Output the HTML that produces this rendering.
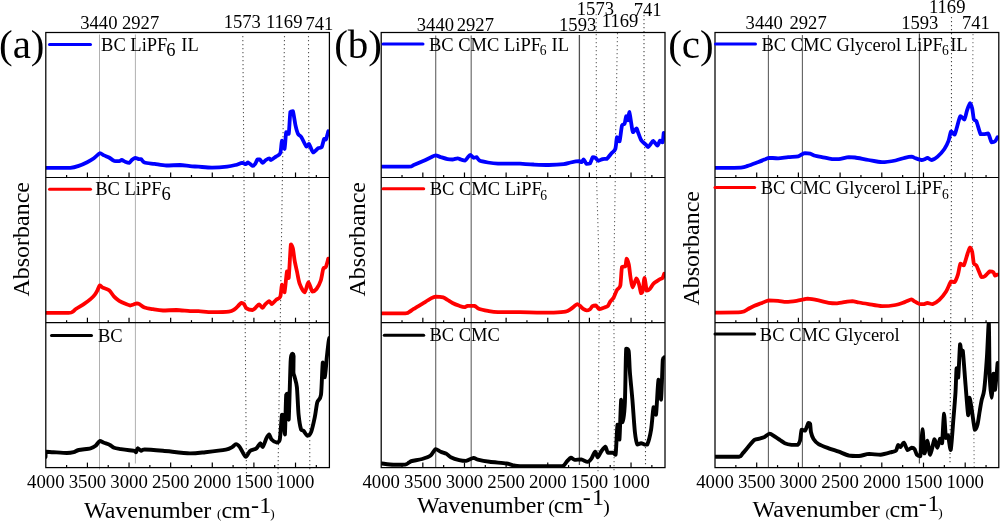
<!DOCTYPE html>
<html><head><meta charset="utf-8"><style>
html,body{margin:0;padding:0;background:#fff;width:1000px;height:522px;overflow:hidden}
svg{display:block;will-change:transform}
text{font-family:"Liberation Serif",serif;white-space:pre}
</style></head><body>
<svg width="1000" height="522" viewBox="0 0 1000 522">
<line x1="87.42" y1="177.5" x2="87.42" y2="172.5" stroke="#000" stroke-width="1.2"/>
<line x1="129.04" y1="177.5" x2="129.04" y2="172.5" stroke="#000" stroke-width="1.2"/>
<line x1="170.66" y1="177.5" x2="170.66" y2="172.5" stroke="#000" stroke-width="1.2"/>
<line x1="212.28" y1="177.5" x2="212.28" y2="172.5" stroke="#000" stroke-width="1.2"/>
<line x1="253.90" y1="177.5" x2="253.90" y2="172.5" stroke="#000" stroke-width="1.2"/>
<line x1="295.52" y1="177.5" x2="295.52" y2="172.5" stroke="#000" stroke-width="1.2"/>
<line x1="66.61" y1="177.5" x2="66.61" y2="175.0" stroke="#000" stroke-width="1.2"/>
<line x1="108.23" y1="177.5" x2="108.23" y2="175.0" stroke="#000" stroke-width="1.2"/>
<line x1="149.85" y1="177.5" x2="149.85" y2="175.0" stroke="#000" stroke-width="1.2"/>
<line x1="191.47" y1="177.5" x2="191.47" y2="175.0" stroke="#000" stroke-width="1.2"/>
<line x1="233.09" y1="177.5" x2="233.09" y2="175.0" stroke="#000" stroke-width="1.2"/>
<line x1="274.71" y1="177.5" x2="274.71" y2="175.0" stroke="#000" stroke-width="1.2"/>
<line x1="316.33" y1="177.5" x2="316.33" y2="175.0" stroke="#000" stroke-width="1.2"/>
<line x1="87.42" y1="322.7" x2="87.42" y2="317.7" stroke="#000" stroke-width="1.2"/>
<line x1="129.04" y1="322.7" x2="129.04" y2="317.7" stroke="#000" stroke-width="1.2"/>
<line x1="170.66" y1="322.7" x2="170.66" y2="317.7" stroke="#000" stroke-width="1.2"/>
<line x1="212.28" y1="322.7" x2="212.28" y2="317.7" stroke="#000" stroke-width="1.2"/>
<line x1="253.90" y1="322.7" x2="253.90" y2="317.7" stroke="#000" stroke-width="1.2"/>
<line x1="295.52" y1="322.7" x2="295.52" y2="317.7" stroke="#000" stroke-width="1.2"/>
<line x1="66.61" y1="322.7" x2="66.61" y2="320.2" stroke="#000" stroke-width="1.2"/>
<line x1="108.23" y1="322.7" x2="108.23" y2="320.2" stroke="#000" stroke-width="1.2"/>
<line x1="149.85" y1="322.7" x2="149.85" y2="320.2" stroke="#000" stroke-width="1.2"/>
<line x1="191.47" y1="322.7" x2="191.47" y2="320.2" stroke="#000" stroke-width="1.2"/>
<line x1="233.09" y1="322.7" x2="233.09" y2="320.2" stroke="#000" stroke-width="1.2"/>
<line x1="274.71" y1="322.7" x2="274.71" y2="320.2" stroke="#000" stroke-width="1.2"/>
<line x1="316.33" y1="322.7" x2="316.33" y2="320.2" stroke="#000" stroke-width="1.2"/>
<line x1="87.42" y1="467.6" x2="87.42" y2="462.6" stroke="#000" stroke-width="1.2"/>
<line x1="129.04" y1="467.6" x2="129.04" y2="462.6" stroke="#000" stroke-width="1.2"/>
<line x1="170.66" y1="467.6" x2="170.66" y2="462.6" stroke="#000" stroke-width="1.2"/>
<line x1="212.28" y1="467.6" x2="212.28" y2="462.6" stroke="#000" stroke-width="1.2"/>
<line x1="253.90" y1="467.6" x2="253.90" y2="462.6" stroke="#000" stroke-width="1.2"/>
<line x1="295.52" y1="467.6" x2="295.52" y2="462.6" stroke="#000" stroke-width="1.2"/>
<line x1="66.61" y1="467.6" x2="66.61" y2="465.1" stroke="#000" stroke-width="1.2"/>
<line x1="108.23" y1="467.6" x2="108.23" y2="465.1" stroke="#000" stroke-width="1.2"/>
<line x1="149.85" y1="467.6" x2="149.85" y2="465.1" stroke="#000" stroke-width="1.2"/>
<line x1="191.47" y1="467.6" x2="191.47" y2="465.1" stroke="#000" stroke-width="1.2"/>
<line x1="233.09" y1="467.6" x2="233.09" y2="465.1" stroke="#000" stroke-width="1.2"/>
<line x1="274.71" y1="467.6" x2="274.71" y2="465.1" stroke="#000" stroke-width="1.2"/>
<line x1="316.33" y1="467.6" x2="316.33" y2="465.1" stroke="#000" stroke-width="1.2"/>
<text x="45.80" y="487.80" font-size="18.8" text-anchor="middle">4000</text>
<text x="87.42" y="487.80" font-size="18.8" text-anchor="middle">3500</text>
<text x="129.04" y="487.80" font-size="18.8" text-anchor="middle">3000</text>
<text x="170.66" y="487.80" font-size="18.8" text-anchor="middle">2500</text>
<text x="212.28" y="487.80" font-size="18.8" text-anchor="middle">2000</text>
<text x="253.90" y="487.80" font-size="18.8" text-anchor="middle">1500</text>
<text x="295.52" y="487.80" font-size="18.8" text-anchor="middle">1000</text>
<line x1="422.84" y1="177.5" x2="422.84" y2="172.5" stroke="#000" stroke-width="1.2"/>
<line x1="464.48" y1="177.5" x2="464.48" y2="172.5" stroke="#000" stroke-width="1.2"/>
<line x1="506.12" y1="177.5" x2="506.12" y2="172.5" stroke="#000" stroke-width="1.2"/>
<line x1="547.76" y1="177.5" x2="547.76" y2="172.5" stroke="#000" stroke-width="1.2"/>
<line x1="589.40" y1="177.5" x2="589.40" y2="172.5" stroke="#000" stroke-width="1.2"/>
<line x1="631.04" y1="177.5" x2="631.04" y2="172.5" stroke="#000" stroke-width="1.2"/>
<line x1="402.02" y1="177.5" x2="402.02" y2="175.0" stroke="#000" stroke-width="1.2"/>
<line x1="443.66" y1="177.5" x2="443.66" y2="175.0" stroke="#000" stroke-width="1.2"/>
<line x1="485.30" y1="177.5" x2="485.30" y2="175.0" stroke="#000" stroke-width="1.2"/>
<line x1="526.94" y1="177.5" x2="526.94" y2="175.0" stroke="#000" stroke-width="1.2"/>
<line x1="568.58" y1="177.5" x2="568.58" y2="175.0" stroke="#000" stroke-width="1.2"/>
<line x1="610.22" y1="177.5" x2="610.22" y2="175.0" stroke="#000" stroke-width="1.2"/>
<line x1="651.86" y1="177.5" x2="651.86" y2="175.0" stroke="#000" stroke-width="1.2"/>
<line x1="422.84" y1="322.7" x2="422.84" y2="317.7" stroke="#000" stroke-width="1.2"/>
<line x1="464.48" y1="322.7" x2="464.48" y2="317.7" stroke="#000" stroke-width="1.2"/>
<line x1="506.12" y1="322.7" x2="506.12" y2="317.7" stroke="#000" stroke-width="1.2"/>
<line x1="547.76" y1="322.7" x2="547.76" y2="317.7" stroke="#000" stroke-width="1.2"/>
<line x1="589.40" y1="322.7" x2="589.40" y2="317.7" stroke="#000" stroke-width="1.2"/>
<line x1="631.04" y1="322.7" x2="631.04" y2="317.7" stroke="#000" stroke-width="1.2"/>
<line x1="402.02" y1="322.7" x2="402.02" y2="320.2" stroke="#000" stroke-width="1.2"/>
<line x1="443.66" y1="322.7" x2="443.66" y2="320.2" stroke="#000" stroke-width="1.2"/>
<line x1="485.30" y1="322.7" x2="485.30" y2="320.2" stroke="#000" stroke-width="1.2"/>
<line x1="526.94" y1="322.7" x2="526.94" y2="320.2" stroke="#000" stroke-width="1.2"/>
<line x1="568.58" y1="322.7" x2="568.58" y2="320.2" stroke="#000" stroke-width="1.2"/>
<line x1="610.22" y1="322.7" x2="610.22" y2="320.2" stroke="#000" stroke-width="1.2"/>
<line x1="651.86" y1="322.7" x2="651.86" y2="320.2" stroke="#000" stroke-width="1.2"/>
<line x1="422.84" y1="467.6" x2="422.84" y2="462.6" stroke="#000" stroke-width="1.2"/>
<line x1="464.48" y1="467.6" x2="464.48" y2="462.6" stroke="#000" stroke-width="1.2"/>
<line x1="506.12" y1="467.6" x2="506.12" y2="462.6" stroke="#000" stroke-width="1.2"/>
<line x1="547.76" y1="467.6" x2="547.76" y2="462.6" stroke="#000" stroke-width="1.2"/>
<line x1="589.40" y1="467.6" x2="589.40" y2="462.6" stroke="#000" stroke-width="1.2"/>
<line x1="631.04" y1="467.6" x2="631.04" y2="462.6" stroke="#000" stroke-width="1.2"/>
<line x1="402.02" y1="467.6" x2="402.02" y2="465.1" stroke="#000" stroke-width="1.2"/>
<line x1="443.66" y1="467.6" x2="443.66" y2="465.1" stroke="#000" stroke-width="1.2"/>
<line x1="485.30" y1="467.6" x2="485.30" y2="465.1" stroke="#000" stroke-width="1.2"/>
<line x1="526.94" y1="467.6" x2="526.94" y2="465.1" stroke="#000" stroke-width="1.2"/>
<line x1="568.58" y1="467.6" x2="568.58" y2="465.1" stroke="#000" stroke-width="1.2"/>
<line x1="610.22" y1="467.6" x2="610.22" y2="465.1" stroke="#000" stroke-width="1.2"/>
<line x1="651.86" y1="467.6" x2="651.86" y2="465.1" stroke="#000" stroke-width="1.2"/>
<text x="381.20" y="487.80" font-size="18.8" text-anchor="middle">4000</text>
<text x="422.84" y="487.80" font-size="18.8" text-anchor="middle">3500</text>
<text x="464.48" y="487.80" font-size="18.8" text-anchor="middle">3000</text>
<text x="506.12" y="487.80" font-size="18.8" text-anchor="middle">2500</text>
<text x="547.76" y="487.80" font-size="18.8" text-anchor="middle">2000</text>
<text x="589.40" y="487.80" font-size="18.8" text-anchor="middle">1500</text>
<text x="631.04" y="487.80" font-size="18.8" text-anchor="middle">1000</text>
<line x1="756.70" y1="177.5" x2="756.70" y2="172.5" stroke="#000" stroke-width="1.2"/>
<line x1="798.40" y1="177.5" x2="798.40" y2="172.5" stroke="#000" stroke-width="1.2"/>
<line x1="840.10" y1="177.5" x2="840.10" y2="172.5" stroke="#000" stroke-width="1.2"/>
<line x1="881.80" y1="177.5" x2="881.80" y2="172.5" stroke="#000" stroke-width="1.2"/>
<line x1="923.50" y1="177.5" x2="923.50" y2="172.5" stroke="#000" stroke-width="1.2"/>
<line x1="965.20" y1="177.5" x2="965.20" y2="172.5" stroke="#000" stroke-width="1.2"/>
<line x1="735.85" y1="177.5" x2="735.85" y2="175.0" stroke="#000" stroke-width="1.2"/>
<line x1="777.55" y1="177.5" x2="777.55" y2="175.0" stroke="#000" stroke-width="1.2"/>
<line x1="819.25" y1="177.5" x2="819.25" y2="175.0" stroke="#000" stroke-width="1.2"/>
<line x1="860.95" y1="177.5" x2="860.95" y2="175.0" stroke="#000" stroke-width="1.2"/>
<line x1="902.65" y1="177.5" x2="902.65" y2="175.0" stroke="#000" stroke-width="1.2"/>
<line x1="944.35" y1="177.5" x2="944.35" y2="175.0" stroke="#000" stroke-width="1.2"/>
<line x1="986.05" y1="177.5" x2="986.05" y2="175.0" stroke="#000" stroke-width="1.2"/>
<line x1="756.70" y1="322.7" x2="756.70" y2="317.7" stroke="#000" stroke-width="1.2"/>
<line x1="798.40" y1="322.7" x2="798.40" y2="317.7" stroke="#000" stroke-width="1.2"/>
<line x1="840.10" y1="322.7" x2="840.10" y2="317.7" stroke="#000" stroke-width="1.2"/>
<line x1="881.80" y1="322.7" x2="881.80" y2="317.7" stroke="#000" stroke-width="1.2"/>
<line x1="923.50" y1="322.7" x2="923.50" y2="317.7" stroke="#000" stroke-width="1.2"/>
<line x1="965.20" y1="322.7" x2="965.20" y2="317.7" stroke="#000" stroke-width="1.2"/>
<line x1="735.85" y1="322.7" x2="735.85" y2="320.2" stroke="#000" stroke-width="1.2"/>
<line x1="777.55" y1="322.7" x2="777.55" y2="320.2" stroke="#000" stroke-width="1.2"/>
<line x1="819.25" y1="322.7" x2="819.25" y2="320.2" stroke="#000" stroke-width="1.2"/>
<line x1="860.95" y1="322.7" x2="860.95" y2="320.2" stroke="#000" stroke-width="1.2"/>
<line x1="902.65" y1="322.7" x2="902.65" y2="320.2" stroke="#000" stroke-width="1.2"/>
<line x1="944.35" y1="322.7" x2="944.35" y2="320.2" stroke="#000" stroke-width="1.2"/>
<line x1="986.05" y1="322.7" x2="986.05" y2="320.2" stroke="#000" stroke-width="1.2"/>
<line x1="756.70" y1="467.6" x2="756.70" y2="462.6" stroke="#000" stroke-width="1.2"/>
<line x1="798.40" y1="467.6" x2="798.40" y2="462.6" stroke="#000" stroke-width="1.2"/>
<line x1="840.10" y1="467.6" x2="840.10" y2="462.6" stroke="#000" stroke-width="1.2"/>
<line x1="881.80" y1="467.6" x2="881.80" y2="462.6" stroke="#000" stroke-width="1.2"/>
<line x1="923.50" y1="467.6" x2="923.50" y2="462.6" stroke="#000" stroke-width="1.2"/>
<line x1="965.20" y1="467.6" x2="965.20" y2="462.6" stroke="#000" stroke-width="1.2"/>
<line x1="735.85" y1="467.6" x2="735.85" y2="465.1" stroke="#000" stroke-width="1.2"/>
<line x1="777.55" y1="467.6" x2="777.55" y2="465.1" stroke="#000" stroke-width="1.2"/>
<line x1="819.25" y1="467.6" x2="819.25" y2="465.1" stroke="#000" stroke-width="1.2"/>
<line x1="860.95" y1="467.6" x2="860.95" y2="465.1" stroke="#000" stroke-width="1.2"/>
<line x1="902.65" y1="467.6" x2="902.65" y2="465.1" stroke="#000" stroke-width="1.2"/>
<line x1="944.35" y1="467.6" x2="944.35" y2="465.1" stroke="#000" stroke-width="1.2"/>
<line x1="986.05" y1="467.6" x2="986.05" y2="465.1" stroke="#000" stroke-width="1.2"/>
<text x="715.00" y="487.80" font-size="18.8" text-anchor="middle">4000</text>
<text x="756.70" y="487.80" font-size="18.8" text-anchor="middle">3500</text>
<text x="798.40" y="487.80" font-size="18.8" text-anchor="middle">3000</text>
<text x="840.10" y="487.80" font-size="18.8" text-anchor="middle">2500</text>
<text x="881.80" y="487.80" font-size="18.8" text-anchor="middle">2000</text>
<text x="923.50" y="487.80" font-size="18.8" text-anchor="middle">1500</text>
<text x="965.20" y="487.80" font-size="18.8" text-anchor="middle">1000</text>
<line x1="99.5" y1="34.5" x2="99.5" y2="469.5" stroke="#b0b0b0" stroke-width="1.0"/>
<line x1="135.4" y1="34.5" x2="135.4" y2="463.5" stroke="#b0b0b0" stroke-width="1.0"/>
<line x1="435.7" y1="35.5" x2="435.7" y2="467" stroke="#6e6e6e" stroke-width="1.2"/>
<line x1="471.2" y1="35.5" x2="471.2" y2="467" stroke="#6e6e6e" stroke-width="1.2"/>
<line x1="579.4" y1="35" x2="579.4" y2="465" stroke="#505050" stroke-width="1.3"/>
<line x1="768.4" y1="35" x2="768.4" y2="467" stroke="#606060" stroke-width="1.1"/>
<line x1="802.4" y1="35" x2="802.4" y2="467" stroke="#606060" stroke-width="1.1"/>
<line x1="919.4" y1="33.5" x2="919.4" y2="463.5" stroke="#505050" stroke-width="1.2"/>
<path d="M242.8,36 L246.5,482" fill="none" stroke="#555" stroke-width="1.1" stroke-dasharray="1.2 2.8"/>
<path d="M284.5,36 L277.9,482" fill="none" stroke="#555" stroke-width="1.1" stroke-dasharray="1.2 2.8"/>
<path d="M308.5,36 L309.8,471" fill="none" stroke="#555" stroke-width="1.1" stroke-dasharray="1.2 2.8"/>
<path d="M596.2,14 L596.5,177 L598.4,240 L599.3,300 L598.4,400 L598.0,472" fill="none" stroke="#666" stroke-width="1.1" stroke-dasharray="1.2 2.8"/>
<path d="M617.5,33 L615.5,140 L615.3,177 L614.3,240 L613.7,300 L614.6,400 L614.0,471" fill="none" stroke="#666" stroke-width="1.1" stroke-dasharray="1.2 2.8"/>
<path d="M644.0,15 L644.0,90 L645.3,195 L645.5,466" fill="none" stroke="#444" stroke-width="1.1" stroke-dasharray="1.2 2.8"/>
<path d="M951.5,17 L951.4,200 L950.0,464" fill="none" stroke="#444" stroke-width="1.1" stroke-dasharray="1.2 2.8"/>
<path d="M973.0,34 L972.5,100 L972.5,300 L974.2,467" fill="none" stroke="#777" stroke-width="1.1" stroke-dasharray="1.2 2.8"/>
<defs><clipPath id="clipbluea"><rect x="45.8" y="32.5" width="283.60" height="145.00"/></clipPath><clipPath id="clipreda"><rect x="45.8" y="177.5" width="283.60" height="145.20"/></clipPath><clipPath id="clipblka"><rect x="45.8" y="322.7" width="283.60" height="144.90"/></clipPath><clipPath id="clipblueb"><rect x="381.2" y="32.5" width="283.80" height="145.00"/></clipPath><clipPath id="clipredb"><rect x="381.2" y="177.5" width="283.80" height="145.20"/></clipPath><clipPath id="clipblkb"><rect x="381.2" y="322.7" width="283.80" height="144.90"/></clipPath><clipPath id="clipbluec"><rect x="715.0" y="32.5" width="283.80" height="145.00"/></clipPath><clipPath id="clipredc"><rect x="715.0" y="177.5" width="283.80" height="145.20"/></clipPath><clipPath id="clipblkc"><rect x="715.0" y="322.7" width="283.80" height="144.90"/></clipPath></defs>
<g clip-path="url(#clipbluea)">
<path d="M45.50,167.90 C47.32,167.90 55.03,167.90 58.50,167.90 C61.97,167.90 67.47,167.90 70.30,167.90 C73.13,167.62 76.33,166.70 78.70,165.90 C81.07,165.10 85.07,163.26 87.20,162.20 C89.33,161.14 92.14,159.56 93.90,158.30 C95.66,157.04 98.39,153.61 99.80,153.20 C101.21,153.20 102.71,154.80 104.00,155.40 C105.29,156.00 107.59,156.74 109.00,157.50 C110.41,158.26 112.67,160.28 114.10,160.80 C115.53,161.20 118.14,161.20 119.20,161.20 C120.26,161.09 120.87,160.00 121.70,160.00 C122.53,160.07 124.04,161.31 125.10,161.70 C126.16,162.09 128.36,162.80 129.30,162.80 C130.24,162.56 130.97,160.70 131.80,160.00 C132.63,159.30 134.25,157.93 135.20,157.80 C136.15,157.80 137.77,158.92 138.60,159.10 C139.43,159.10 140.27,159.10 141.10,159.10 C141.93,159.58 142.61,161.83 144.50,162.50 C146.39,163.17 151.53,163.48 154.60,163.90 C157.67,164.32 162.86,165.35 166.40,165.50 C169.94,165.50 176.60,165.00 179.90,165.00 C183.20,165.10 187.40,165.96 190.00,166.20 C192.60,166.44 195.42,166.50 198.50,166.70 C201.58,166.90 207.98,167.60 212.00,167.60 C216.02,167.60 223.90,167.06 227.20,166.70 C230.50,166.34 233.49,165.55 235.60,165.00 C237.71,164.45 240.89,162.91 242.30,162.80 C243.71,162.80 244.87,164.20 245.70,164.20 C246.53,164.16 247.25,162.50 248.20,162.50 C249.15,162.74 251.55,165.66 252.50,165.90 C253.45,165.90 254.30,165.10 255.00,164.20 C255.70,163.30 256.80,160.16 257.50,159.50 C258.20,159.50 259.29,159.50 260.00,159.50 C260.71,159.96 261.77,162.73 262.60,162.80 C263.43,162.80 264.96,160.63 265.90,160.00 C266.84,159.37 268.59,158.30 269.30,158.30 C270.01,158.30 270.06,160.00 271.00,160.00 C271.94,159.76 274.70,157.55 276.00,156.60 C277.30,155.65 279.46,155.44 280.30,153.20 C281.14,150.96 281.41,141.19 282.00,140.60 C282.59,140.60 283.91,149.00 284.50,149.00 C285.09,147.82 285.61,134.33 286.20,132.20 C286.79,132.20 288.11,133.80 288.70,133.80 C289.29,130.96 289.81,115.08 290.40,111.90 C290.99,111.10 292.19,111.10 292.90,111.10 C293.61,112.99 294.79,122.22 295.50,125.40 C296.21,128.58 297.17,132.15 298.00,133.80 C298.83,135.45 300.22,135.42 301.40,137.20 C302.58,138.98 305.34,145.55 306.40,146.50 C307.46,146.50 308.05,144.00 309.00,144.00 C309.95,144.83 311.91,151.81 313.20,152.40 C314.49,152.40 317.02,148.91 318.20,148.20 C319.38,147.49 320.77,148.20 321.60,147.30 C322.43,146.00 323.51,139.96 324.10,138.90 C324.69,138.90 325.21,139.70 325.80,139.70 C326.39,138.64 327.95,132.48 328.30,131.30" fill="none" stroke="#0000ff" stroke-width="3.8" stroke-linejoin="round" stroke-linecap="round"/>
</g>
<g clip-path="url(#clipreda)">
<path d="M45.50,312.90 C48.73,312.90 64.78,312.90 68.60,312.90 C72.42,312.73 71.74,312.29 72.80,311.70 C73.86,311.11 74.66,309.76 76.20,308.70 C77.74,307.64 81.80,305.44 83.80,304.10 C85.80,302.76 88.97,300.39 90.50,299.10 C92.03,297.81 93.75,296.09 94.70,294.90 C95.65,293.71 96.59,291.94 97.30,290.60 C98.01,289.26 99.10,285.76 99.80,285.30 C100.50,285.30 101.00,286.60 102.30,287.30 C103.60,288.00 107.45,289.00 109.10,290.30 C110.75,291.60 112.69,295.13 114.10,296.60 C115.51,298.07 117.53,299.75 119.20,300.80 C120.87,301.85 124.46,303.44 126.00,304.10 C127.54,304.76 129.15,305.44 130.20,305.50 C131.25,305.50 132.56,304.81 133.50,304.50 C134.44,304.19 136.07,303.36 136.90,303.30 C137.73,303.30 138.34,303.51 139.40,304.10 C140.46,304.69 142.61,306.79 144.50,307.50 C146.39,308.21 150.31,308.78 152.90,309.20 C155.49,309.62 159.70,310.39 163.00,310.50 C166.30,310.50 172.72,310.00 176.50,310.00 C180.28,310.10 186.92,311.03 190.00,311.20 C193.08,311.20 195.42,311.20 198.50,311.20 C201.58,311.34 207.76,312.13 212.00,312.20 C216.24,312.20 225.62,312.12 228.80,311.70 C231.98,311.28 233.27,310.14 234.70,309.20 C236.13,308.26 238.05,305.90 239.00,305.00 C239.95,304.10 240.80,302.93 241.50,302.80 C242.20,302.80 243.29,303.32 244.00,304.10 C244.71,304.88 245.41,307.57 246.60,308.40 C247.79,309.23 251.21,310.00 252.50,310.00 C253.79,309.87 254.86,308.27 255.80,307.50 C256.74,306.73 258.25,304.50 259.20,304.50 C260.15,304.56 261.77,307.90 262.60,307.90 C263.43,307.90 264.16,305.45 265.10,304.50 C266.04,303.55 268.36,301.16 269.30,301.10 C270.24,301.10 270.85,304.10 271.80,304.10 C272.75,303.93 274.91,300.95 276.10,299.90 C277.29,298.85 279.47,298.73 280.30,296.60 C281.13,294.47 281.41,285.30 282.00,284.70 C282.59,284.70 283.80,292.30 284.50,292.30 C285.20,290.42 286.41,273.30 287.00,271.30 C287.59,271.30 288.15,278.00 288.70,278.00 C289.25,274.22 290.31,248.43 290.90,244.30 C291.49,244.30 292.38,246.26 292.90,248.50 C293.42,250.74 294.01,257.00 294.60,260.30 C295.19,263.60 296.39,268.80 297.10,272.10 C297.81,275.40 298.64,281.07 299.70,283.90 C300.76,286.73 303.48,292.30 304.70,292.30 C305.92,292.06 307.34,282.31 308.40,282.20 C309.46,282.20 311.17,290.55 312.30,291.50 C313.43,291.50 315.31,290.54 316.50,289.00 C317.69,287.46 319.85,283.34 320.80,280.50 C321.75,277.66 322.60,270.59 323.30,268.70 C324.00,267.00 325.10,268.41 325.80,267.00 C326.50,265.59 327.95,259.78 328.30,258.60" fill="none" stroke="#ff0000" stroke-width="3.8" stroke-linejoin="round" stroke-linecap="round"/>
</g>
<g clip-path="url(#clipblka)">
<path d="M45.50,457.00 C45.57,456.26 45.50,452.37 46.00,451.70 C47.11,451.70 50.47,452.02 53.40,452.20 C56.33,452.38 64.06,453.00 66.90,453.00 C69.74,453.00 72.05,452.62 73.70,452.20 C75.35,451.78 76.35,450.55 78.70,450.00 C81.05,449.45 88.13,448.89 90.50,448.30 C92.87,447.71 94.30,446.82 95.60,445.80 C96.90,444.78 98.62,441.43 99.80,441.00 C100.98,441.00 102.59,442.15 104.00,442.70 C105.41,443.25 108.49,444.19 109.90,444.90 C111.31,445.61 112.56,447.21 114.10,447.80 C115.64,448.39 118.77,448.75 120.90,449.10 C123.03,449.45 127.41,450.06 129.30,450.30 C131.19,450.54 133.45,450.53 134.40,450.80 C135.35,451.07 135.64,452.20 136.10,452.20 C136.56,451.85 137.00,448.50 137.70,448.30 C138.40,448.30 140.15,450.63 141.10,450.80 C142.05,450.80 141.43,449.50 144.50,449.50 C147.57,449.50 156.63,450.25 163.00,450.80 C169.37,451.35 184.06,453.20 190.00,453.40 C195.94,453.40 200.39,452.72 205.40,452.20 C210.41,451.68 222.06,450.41 225.80,449.70 C229.54,448.99 230.67,447.88 232.10,447.10 C233.53,446.32 234.92,444.10 236.00,444.10 C237.08,444.10 238.44,445.32 239.80,447.10 C241.16,448.88 244.27,456.25 245.70,456.80 C247.13,456.80 248.50,452.18 250.00,451.00 C251.50,449.82 254.97,449.48 256.40,448.40 C257.83,447.32 259.32,443.48 260.20,443.30 C261.08,443.30 261.82,447.10 262.70,447.10 C263.58,446.39 265.60,439.98 266.50,438.20 C267.40,436.42 268.39,434.40 269.10,434.40 C269.81,434.58 270.54,438.37 271.60,439.50 C272.66,440.63 275.55,442.50 276.70,442.50 C277.85,442.50 279.06,442.50 279.80,439.50 C280.54,435.61 281.45,417.82 282.00,414.70 C282.55,414.70 283.29,414.70 283.70,417.20 C284.11,419.99 284.55,434.60 284.90,434.60 C285.25,431.46 285.78,400.55 286.20,394.80 C286.62,393.50 287.55,393.50 287.90,393.50 C288.25,396.99 288.32,419.70 288.70,419.70 C289.08,415.29 290.21,371.06 290.60,362.00 C290.99,355.00 291.22,356.15 291.50,355.00 C291.78,353.85 292.31,353.80 292.60,353.80 C292.89,353.94 293.49,353.80 293.60,356.00 C293.60,358.55 293.40,369.06 293.40,372.00 C293.54,374.94 294.11,374.86 294.60,377.00 C295.09,379.14 296.34,382.02 296.90,387.30 C297.46,392.58 298.01,408.78 298.60,414.70 C299.19,420.62 300.40,427.33 301.10,429.60 C301.80,430.90 302.72,430.03 303.60,430.90 C304.48,431.77 306.35,435.63 307.40,435.80 C308.45,435.80 310.06,434.70 311.10,432.10 C312.14,429.50 313.93,421.39 314.80,417.20 C315.67,413.01 316.43,405.34 317.30,402.20 C318.17,399.06 320.23,400.37 321.00,394.80 C321.77,389.23 322.27,364.85 322.80,362.40 C323.33,362.40 324.24,377.30 324.80,377.30 C325.36,376.60 326.28,362.27 326.80,357.40 C327.32,352.53 328.15,345.22 328.50,342.50 C328.85,339.78 329.19,338.63 329.30,338.00" fill="none" stroke="#000000" stroke-width="3.9" stroke-linejoin="round" stroke-linecap="round"/>
</g>
<g clip-path="url(#clipblueb)">
<path d="M382.00,166.70 C385.74,166.70 404.26,166.70 408.70,166.70 C413.14,166.46 411.59,165.83 413.70,165.00 C415.81,164.17 421.43,161.85 423.80,160.80 C426.17,159.75 428.95,158.26 430.60,157.50 C432.25,156.74 434.19,155.46 435.60,155.40 C437.01,155.40 439.03,156.58 440.70,157.10 C442.37,157.62 445.85,158.76 447.50,159.10 C449.15,159.44 451.09,159.50 452.50,159.50 C453.91,159.39 456.42,158.30 457.60,158.30 C458.78,158.30 459.84,159.19 460.90,159.50 C461.96,159.81 464.25,160.50 465.20,160.50 C466.15,160.22 467.00,158.28 467.70,157.50 C468.40,156.72 469.37,154.90 470.20,154.90 C471.03,154.94 472.72,157.49 473.60,157.80 C474.48,157.80 475.67,157.10 476.50,157.10 C477.33,157.48 477.90,159.74 479.50,160.50 C481.10,161.26 485.31,162.05 487.90,162.50 C490.49,162.95 494.22,163.53 498.00,163.70 C501.78,163.70 511.82,163.70 514.90,163.70 C517.98,163.70 517.40,163.70 520.00,163.70 C522.60,163.81 529.48,164.32 533.50,164.50 C537.52,164.68 544.46,165.00 548.70,165.00 C552.94,164.96 560.73,164.55 563.80,164.20 C566.87,163.85 568.47,162.92 570.60,162.50 C572.73,162.08 577.46,161.24 579.00,161.20 C580.54,161.20 580.94,162.20 581.60,162.20 C582.26,161.96 583.00,159.50 583.70,159.50 C584.40,159.74 585.72,163.35 586.60,163.90 C587.48,163.90 589.13,163.90 590.00,163.40 C590.87,162.45 592.03,157.88 592.80,157.10 C593.57,157.10 594.72,157.28 595.50,157.80 C596.28,158.32 597.41,160.62 598.40,160.80 C599.39,160.80 601.42,159.38 602.60,159.10 C603.78,158.82 605.61,159.10 606.80,158.80 C607.99,158.04 609.91,155.07 611.10,153.70 C612.29,152.33 614.47,151.31 615.30,149.00 C616.13,146.69 616.41,138.26 617.00,137.20 C617.59,137.20 618.80,141.40 619.50,141.40 C620.20,139.75 621.29,127.88 622.00,125.40 C622.71,123.70 624.01,125.00 624.60,123.70 C625.19,122.40 625.74,116.56 626.20,116.10 C626.66,116.10 627.47,120.40 627.90,120.40 C628.33,119.81 628.82,111.90 629.30,111.90 C629.78,112.36 630.78,120.86 631.30,123.70 C631.82,126.54 632.29,131.54 633.00,132.20 C633.71,132.20 635.70,128.40 636.40,128.40 C637.10,128.40 637.30,130.49 638.00,132.20 C638.70,133.91 640.34,138.91 641.40,140.60 C642.46,142.29 644.65,143.40 645.60,144.30 C646.55,145.20 647.49,147.00 648.20,147.00 C648.91,146.96 650.00,144.85 650.70,144.00 C651.40,143.15 652.26,140.90 653.20,140.90 C654.14,141.12 656.45,145.60 657.40,145.60 C658.35,145.56 659.29,141.06 660.00,140.60 C660.71,140.60 661.98,142.30 662.50,142.30 C663.02,141.24 663.53,134.30 663.70,133.00" fill="none" stroke="#0000ff" stroke-width="3.8" stroke-linejoin="round" stroke-linecap="round"/>
</g>
<g clip-path="url(#clipredb)">
<path d="M382.00,313.40 C385.26,313.40 401.45,313.40 405.30,313.40 C409.15,313.16 408.32,312.33 409.50,311.70 C410.68,311.07 411.92,310.01 413.70,308.90 C415.48,307.79 419.83,305.23 422.20,303.80 C424.57,302.37 428.72,299.71 430.60,298.70 C432.48,297.69 433.84,296.78 435.60,296.60 C437.36,296.60 441.53,296.94 443.20,297.40 C444.87,297.86 446.20,299.12 447.50,299.90 C448.80,300.68 450.85,302.17 452.50,303.00 C454.15,303.83 457.65,305.21 459.30,305.80 C460.95,306.39 463.12,307.20 464.30,307.20 C465.48,307.20 466.29,306.00 467.70,305.80 C469.11,305.80 472.86,305.80 474.40,305.80 C475.94,306.21 476.81,307.99 478.70,308.70 C480.59,309.41 485.20,310.41 487.90,310.90 C490.60,311.39 493.51,312.02 498.00,312.20 C502.49,312.20 514.55,312.20 520.00,312.20 C525.45,312.26 532.18,312.54 536.90,312.60 C541.62,312.60 549.70,312.60 553.70,312.60 C557.70,312.47 563.13,312.18 565.50,311.70 C567.87,311.22 569.30,310.03 570.60,309.20 C571.90,308.37 573.86,306.51 574.80,305.80 C575.74,305.09 576.59,304.10 577.30,304.10 C578.01,304.10 579.07,305.13 579.90,305.80 C580.73,306.47 582.26,308.26 583.20,308.90 C584.14,309.54 585.65,310.36 586.60,310.40 C587.55,310.40 589.17,309.79 590.00,309.20 C590.83,308.61 591.67,306.72 592.50,306.20 C593.33,305.68 594.95,305.50 595.90,305.50 C596.85,305.92 598.12,308.92 599.30,309.20 C600.48,309.20 603.12,307.92 604.30,307.50 C605.48,307.08 606.87,307.03 607.70,306.20 C608.53,305.37 609.37,302.79 610.20,301.60 C611.03,300.41 612.65,299.35 613.60,297.70 C614.55,296.05 616.06,291.49 617.00,289.80 C617.94,288.11 619.60,288.79 620.30,285.60 C621.00,282.41 621.29,269.72 622.00,267.00 C622.71,266.20 624.76,267.00 625.40,266.20 C626.04,265.02 626.12,258.84 626.60,258.60 C627.08,258.60 628.25,261.90 628.80,264.50 C629.35,267.10 629.97,274.01 630.50,277.20 C631.03,280.39 631.77,287.12 632.60,287.30 C633.43,287.30 635.52,278.98 636.40,278.50 C637.28,278.50 638.24,281.84 638.90,283.90 C639.56,285.96 640.55,292.26 641.10,293.20 C641.65,293.20 642.32,292.73 642.80,290.60 C643.28,288.47 643.94,278.00 644.50,278.00 C645.06,278.00 646.06,289.06 646.80,290.60 C647.54,290.60 648.90,289.94 649.80,289.00 C650.70,288.06 652.25,284.96 653.20,283.90 C654.15,282.84 655.65,282.06 656.60,281.40 C657.55,280.74 659.17,279.68 660.00,279.20 C660.83,278.72 661.91,278.76 662.50,278.00 C663.09,277.24 663.96,274.39 664.20,273.80" fill="none" stroke="#ff0000" stroke-width="3.8" stroke-linejoin="round" stroke-linecap="round"/>
</g>
<g clip-path="url(#clipblkb)">
<path d="M382.00,463.50 C383.61,463.67 390.24,464.56 393.50,464.70 C396.76,464.70 403.13,464.70 405.30,464.50 C407.47,464.19 408.06,462.99 409.00,462.50 C409.94,462.01 410.15,461.49 412.00,461.00 C413.85,460.51 419.60,459.77 422.20,459.00 C424.80,458.23 428.72,456.89 430.60,455.50 C432.48,454.11 434.19,449.63 435.60,449.10 C437.01,449.10 439.16,451.03 440.70,451.70 C442.24,452.37 445.19,453.13 446.60,453.90 C448.01,454.67 449.02,456.33 450.80,457.20 C452.58,458.07 457.17,459.58 459.30,460.10 C461.43,460.62 464.00,460.90 466.00,460.90 C468.00,460.59 471.95,458.08 473.60,457.90 C475.25,457.90 475.56,459.05 477.80,459.60 C480.04,460.15 485.58,461.25 489.60,461.80 C493.62,462.35 503.08,462.98 506.50,463.50 C509.92,464.02 512.11,465.12 514.00,465.50 C515.89,465.88 515.59,466.09 520.00,466.20 C524.41,466.30 539.62,466.29 545.50,466.30 C551.38,466.30 558.98,466.30 562.00,466.30 C565.02,465.57 565.84,462.29 567.10,461.10 C568.36,459.91 569.92,457.97 571.00,457.80 C572.08,457.80 573.37,459.68 574.80,459.90 C576.23,459.90 579.42,459.40 581.20,459.40 C582.98,459.68 586.07,461.90 587.50,461.90 C588.93,461.79 590.32,460.03 591.40,458.60 C592.48,457.17 594.32,451.88 595.20,451.70 C596.08,451.70 596.82,457.30 597.70,457.30 C598.58,457.20 600.42,452.50 601.50,451.00 C602.58,449.50 604.50,446.60 605.40,446.60 C606.30,446.84 606.84,451.85 607.90,452.70 C608.96,452.70 611.92,452.70 613.00,452.70 C614.08,452.99 614.97,454.80 615.60,454.80 C616.23,450.87 616.97,426.73 617.50,424.60 C618.03,424.60 618.88,439.60 619.40,439.60 C619.92,436.11 620.71,402.14 621.20,399.70 C621.69,399.70 622.38,421.85 622.90,422.20 C623.42,422.20 624.44,412.49 624.90,402.20 C625.36,391.91 625.67,355.84 626.20,348.70 C626.73,348.70 628.18,348.70 628.70,351.20 C629.22,354.52 629.38,365.61 629.90,372.40 C630.42,379.19 631.70,391.34 632.40,399.70 C633.10,408.06 634.20,425.81 634.90,432.10 C635.60,438.39 636.53,443.03 637.40,444.60 C638.27,444.60 640.06,443.30 641.10,443.30 C642.14,443.30 643.93,444.42 644.80,444.60 C645.67,444.60 646.42,444.60 647.30,444.60 C648.18,442.50 650.22,434.84 651.10,429.60 C651.98,424.36 652.91,409.29 653.60,407.20 C654.29,407.20 655.31,414.70 656.00,414.70 C656.69,410.86 657.80,381.90 658.50,379.80 C659.20,379.80 660.40,399.70 661.00,399.70 C661.60,396.91 662.34,365.82 662.80,359.90 C663.26,357.40 664.09,357.75 664.30,357.40" fill="none" stroke="#000000" stroke-width="3.9" stroke-linejoin="round" stroke-linecap="round"/>
</g>
<g clip-path="url(#clipbluec)">
<path d="M715.70,167.90 C719.24,167.86 736.52,167.88 741.00,167.60 C745.48,167.32 745.35,166.66 747.70,165.90 C750.05,165.14 755.43,163.08 757.80,162.20 C760.17,161.32 763.06,160.22 764.60,159.60 C766.14,158.98 766.91,157.98 768.80,157.80 C770.69,157.80 775.38,158.30 778.10,158.30 C780.82,158.20 785.37,157.38 788.20,157.10 C791.03,156.82 796.41,156.68 798.30,156.30 C800.19,155.92 800.75,154.83 801.70,154.40 C802.65,153.97 803.92,153.30 805.10,153.20 C806.28,153.20 808.69,153.34 810.10,153.70 C811.51,154.06 813.55,155.32 815.20,155.80 C816.85,156.28 819.55,156.64 821.90,157.10 C824.25,157.56 829.63,158.82 832.00,159.10 C834.37,159.10 836.43,159.10 838.80,159.10 C841.17,158.82 846.63,157.32 848.90,157.10 C851.17,157.10 852.26,157.10 855.00,157.50 C857.74,157.91 864.72,159.34 868.50,160.00 C872.28,160.66 878.22,162.13 882.00,162.20 C885.78,162.20 892.32,161.12 895.50,160.50 C898.68,159.88 902.46,158.35 904.70,157.80 C906.94,157.25 909.96,156.60 911.50,156.60 C913.04,156.67 914.29,157.82 915.70,158.30 C917.11,158.78 920.30,159.89 921.60,160.00 C922.90,160.00 924.17,159.41 925.00,159.10 C925.83,158.79 926.56,157.80 927.50,157.80 C928.44,157.93 930.29,160.00 931.70,160.00 C933.11,159.83 935.82,158.14 937.60,156.60 C939.38,155.06 942.86,151.24 944.40,149.00 C945.94,146.76 947.66,143.08 948.60,140.60 C949.54,138.12 950.27,132.13 951.10,131.30 C951.93,131.30 953.67,134.70 954.50,134.70 C955.33,134.11 956.17,129.70 957.00,127.10 C957.83,124.50 959.38,117.16 960.40,116.10 C961.42,116.10 963.36,119.50 964.30,119.50 C965.24,118.67 966.30,112.48 967.10,110.20 C967.90,107.92 969.29,103.44 970.00,103.20 C970.71,103.20 971.65,106.22 972.20,108.50 C972.75,110.78 973.31,117.72 973.90,119.50 C974.49,121.20 975.46,119.50 976.40,121.20 C977.34,123.26 979.54,132.38 980.60,134.20 C981.66,134.20 982.94,134.20 984.00,134.20 C985.06,134.10 987.14,133.50 988.20,133.50 C989.26,134.63 990.65,141.19 991.60,142.30 C992.55,142.30 994.17,142.11 995.00,141.40 C995.83,140.69 997.15,137.79 997.50,137.20" fill="none" stroke="#0000ff" stroke-width="3.8" stroke-linejoin="round" stroke-linecap="round"/>
</g>
<g clip-path="url(#clipredc)">
<path d="M715.70,312.60 C719.24,312.54 736.52,312.60 741.00,312.20 C745.48,311.72 745.81,310.10 747.70,309.20 C749.59,308.30 752.61,306.63 754.50,305.80 C756.39,304.97 759.20,304.06 761.20,303.30 C763.20,302.54 766.43,300.75 768.80,300.40 C771.17,300.40 775.62,300.59 778.10,300.80 C780.58,301.01 783.91,301.90 786.50,301.90 C789.09,301.90 794.23,301.15 796.60,300.80 C798.97,300.45 801.86,299.69 803.40,299.40 C804.94,299.11 805.47,298.70 807.60,298.70 C809.73,298.84 815.65,299.83 818.60,300.40 C821.55,300.97 826.11,302.39 828.70,302.80 C831.29,303.21 834.51,303.30 837.10,303.30 C839.69,303.13 845.07,301.91 847.20,301.60 C849.33,301.29 850.65,301.10 852.30,301.10 C853.95,301.23 856.73,302.08 859.00,302.50 C861.27,302.92 865.28,303.58 868.50,304.10 C871.72,304.62 878.22,306.07 882.00,306.20 C885.78,306.20 892.32,305.57 895.50,305.00 C898.68,304.43 902.46,302.88 904.70,302.10 C906.94,301.32 910.20,299.54 911.50,299.40 C912.80,299.40 912.94,300.48 914.00,301.10 C915.06,301.72 917.69,303.38 919.10,303.80 C920.51,304.10 922.92,304.10 924.10,304.10 C925.28,303.99 926.31,303.00 927.50,303.00 C928.69,303.00 930.95,304.10 932.60,304.10 C934.25,303.67 937.41,301.66 939.30,299.90 C941.19,298.14 944.45,294.09 946.10,291.50 C947.75,288.91 949.92,282.70 951.10,281.40 C952.28,281.40 953.55,282.20 954.50,282.20 C955.45,281.25 957.07,277.19 957.90,274.60 C958.73,272.01 959.57,264.99 960.40,263.70 C961.23,263.70 962.79,265.40 963.80,265.40 C964.81,263.97 966.73,255.99 967.60,253.50 C968.47,251.01 969.36,247.82 970.00,247.60 C970.64,247.60 971.65,249.65 972.20,251.90 C972.75,254.15 973.31,261.81 973.90,263.70 C974.49,265.40 975.34,263.70 976.40,265.40 C977.46,267.29 980.32,275.67 981.50,277.20 C982.68,277.20 983.62,277.13 984.80,276.30 C985.98,275.47 988.71,271.89 989.90,271.30 C991.09,271.30 992.59,271.51 993.30,272.10 C994.01,272.69 994.41,275.15 995.00,275.50 C995.59,275.50 997.15,274.73 997.50,274.60" fill="none" stroke="#ff0000" stroke-width="3.8" stroke-linejoin="round" stroke-linecap="round"/>
</g>
<g clip-path="url(#clipblkc)">
<path d="M715.70,456.70 C717.35,456.70 724.20,456.70 727.50,456.70 C730.80,456.70 737.17,456.70 739.30,456.70 C741.43,456.24 741.52,454.69 742.70,453.40 C743.88,452.11 746.05,449.39 747.70,447.50 C749.35,445.61 752.85,441.13 754.50,439.90 C756.15,438.70 758.09,439.11 759.50,438.70 C760.91,438.29 763.19,437.71 764.60,437.00 C766.01,436.29 768.19,433.67 769.60,433.60 C771.01,433.60 773.27,435.62 774.70,436.50 C776.13,437.38 778.39,438.96 779.80,439.90 C781.21,440.84 783.15,442.50 784.80,443.20 C786.45,443.90 789.82,444.66 791.60,444.90 C793.38,444.90 796.32,444.90 797.50,444.90 C798.68,444.31 799.41,442.83 800.00,440.70 C800.59,438.57 800.99,431.11 801.70,429.70 C802.41,429.70 804.16,430.60 805.10,430.60 C806.04,429.66 807.70,423.95 808.40,423.00 C809.10,423.00 809.74,423.00 810.10,423.80 C810.46,425.10 810.52,430.17 811.00,432.30 C811.48,434.43 812.44,437.35 813.50,439.00 C814.56,440.65 816.47,442.80 818.60,444.10 C820.73,445.40 825.87,447.24 828.70,448.30 C831.53,449.36 835.97,450.69 838.80,451.70 C841.63,452.71 846.07,454.90 848.90,455.50 C851.73,456.00 856.16,456.00 859.00,456.00 C861.84,455.78 866.19,454.07 869.20,453.90 C872.21,453.90 877.32,454.80 880.50,454.80 C883.68,454.53 889.72,452.60 891.90,452.00 C894.08,451.40 895.23,451.49 896.10,450.50 C896.97,449.51 897.50,445.38 898.10,444.90 C898.70,444.90 899.60,447.10 900.40,447.10 C901.20,446.78 902.81,442.60 903.80,442.60 C904.79,443.01 906.38,449.29 907.50,450.00 C908.62,450.00 910.81,447.83 911.80,447.70 C912.79,447.70 913.89,448.11 914.60,449.10 C915.31,450.09 916.10,453.81 916.90,454.80 C917.70,455.79 919.52,456.20 920.30,456.20 C921.08,452.63 921.91,429.69 922.50,429.30 C923.09,429.30 923.81,451.82 924.50,453.40 C925.19,453.40 926.60,440.60 927.40,440.60 C928.20,440.80 929.21,454.80 930.20,454.80 C931.19,454.60 933.51,440.19 934.50,439.20 C935.49,439.20 936.52,447.70 937.30,447.70 C938.08,447.62 939.43,439.22 940.10,438.60 C940.77,438.60 941.55,443.30 942.10,443.30 C942.65,439.83 943.47,414.54 944.00,413.80 C944.53,413.80 945.34,434.99 945.90,438.00 C946.46,438.00 947.33,435.30 948.00,435.30 C948.67,436.98 949.94,450.00 950.70,450.00 C951.46,447.75 952.73,427.26 953.40,419.20 C954.07,411.14 955.05,399.53 955.50,392.40 C955.95,385.27 956.22,370.37 956.60,368.30 C956.98,368.30 957.71,377.60 958.20,377.60 C958.69,374.21 959.65,347.28 960.10,344.10 C960.55,344.10 961.02,353.96 961.40,354.90 C961.78,354.90 962.23,350.80 962.80,350.80 C963.37,354.92 964.74,375.28 965.50,384.30 C966.26,393.32 967.64,413.32 968.20,415.20 C968.76,415.20 969.02,398.64 969.50,397.70 C969.98,397.70 970.84,403.99 971.60,408.50 C972.36,413.01 974.07,427.65 974.90,429.90 C975.73,429.90 976.83,427.22 977.50,424.60 C978.17,421.98 979.13,414.59 979.70,411.20 C980.27,407.81 980.97,403.41 981.60,400.40 C982.23,397.39 983.46,395.71 984.20,389.70 C984.94,383.69 986.26,366.88 986.90,357.50 C987.54,348.12 988.42,322.70 988.80,322.70 C989.18,324.95 989.22,363.10 989.60,373.60 C989.98,384.10 990.94,397.70 991.50,397.70 C992.06,397.70 993.11,374.72 993.60,373.60 C994.09,373.60 994.44,389.70 995.00,389.70 C995.56,388.20 997.24,366.65 997.60,362.90" fill="none" stroke="#000000" stroke-width="3.9" stroke-linejoin="round" stroke-linecap="round"/>
</g>
<rect x="45.8" y="32.5" width="283.60" height="435.10" fill="none" stroke="#000" stroke-width="1.25"/>
<line x1="45.8" y1="177.5" x2="329.4" y2="177.5" stroke="#000" stroke-width="1.2"/>
<line x1="45.8" y1="322.7" x2="329.4" y2="322.7" stroke="#000" stroke-width="1.2"/>
<rect x="381.2" y="32.5" width="283.80" height="435.10" fill="none" stroke="#000" stroke-width="1.25"/>
<line x1="381.2" y1="177.5" x2="665.0" y2="177.5" stroke="#000" stroke-width="1.2"/>
<line x1="381.2" y1="322.7" x2="665.0" y2="322.7" stroke="#000" stroke-width="1.2"/>
<rect x="715.0" y="32.5" width="283.80" height="435.10" fill="none" stroke="#000" stroke-width="1.25"/>
<line x1="715.0" y1="177.5" x2="998.8" y2="177.5" stroke="#000" stroke-width="1.2"/>
<line x1="715.0" y1="322.7" x2="998.8" y2="322.7" stroke="#000" stroke-width="1.2"/>
<line x1="49.5" y1="44.5" x2="90.5" y2="44.5" stroke="#0000ff" stroke-width="3" stroke-linecap="round"/>
<line x1="49.5" y1="189.2" x2="90.5" y2="189.2" stroke="#ff0000" stroke-width="3" stroke-linecap="round"/>
<line x1="51.5" y1="335.5" x2="91.5" y2="335.5" stroke="#000" stroke-width="3" stroke-linecap="round"/>
<line x1="383" y1="44" x2="423" y2="44" stroke="#0000ff" stroke-width="3" stroke-linecap="round"/>
<line x1="383" y1="188.7" x2="423.7" y2="188.7" stroke="#ff0000" stroke-width="3" stroke-linecap="round"/>
<line x1="384.3" y1="335.2" x2="423.7" y2="335.2" stroke="#000" stroke-width="3" stroke-linecap="round"/>
<line x1="715.5" y1="44" x2="755.5" y2="44" stroke="#0000ff" stroke-width="3" stroke-linecap="round"/>
<line x1="715" y1="187.6" x2="754.7" y2="187.6" stroke="#ff0000" stroke-width="3" stroke-linecap="round"/>
<line x1="715" y1="334" x2="754.7" y2="334" stroke="#000" stroke-width="3" stroke-linecap="round"/>
<text x="-1.00" y="57.50" font-size="41" fill="#000">(a)</text>
<text x="334.20" y="58.00" font-size="41" fill="#000">(b)</text>
<text x="668.20" y="58.00" font-size="41" fill="#000">(c)</text>
<text x="80.26" y="29.30" font-size="18.6">3440</text>
<text x="122.01" y="29.30" font-size="18.6">2927</text>
<text x="223.70" y="28.30" font-size="18.6">1573</text>
<text x="265.96" y="28.40" font-size="18.6">1169</text>
<text x="305.40" y="29.50" font-size="18.6">741</text>
<text x="416.81" y="30.60" font-size="18.6">3440</text>
<text x="456.76" y="30.60" font-size="18.6">2927</text>
<text x="559.05" y="31.20" font-size="18.6">1593</text>
<text x="576.80" y="14.50" font-size="18.6">1573</text>
<text x="601.81" y="27.40" font-size="18.6">1169</text>
<text x="633.75" y="15.50" font-size="18.6">741</text>
<text x="745.61" y="29.20" font-size="18.6">3440</text>
<text x="789.51" y="29.20" font-size="18.6">2927</text>
<text x="928.96" y="12.60" font-size="18.6">1169</text>
<text x="901.20" y="29.20" font-size="18.6">1593</text>
<text x="962.00" y="29.20" font-size="18.6">741</text>
<text x="101.07" y="50.60" font-size="18.5" fill="#000">BC LiPF</text>
<text x="166.21" y="55.50" font-size="18.5" fill="#000">6</text>
<text x="181.23" y="50.60" font-size="18.5" fill="#000">IL</text>
<text x="95.27" y="195.20" font-size="18.5" fill="#000">BC LiPF</text>
<text x="161.41" y="199.70" font-size="18.5" fill="#000">6</text>
<text x="97.97" y="341.50" font-size="18.5" fill="#000">BC</text>
<text x="428.97" y="50.90" font-size="18.5" fill="#000">BC CMC LiPF</text>
<text x="539.82" y="54.90" font-size="13.6" fill="#000">6</text>
<text x="551.53" y="50.90" font-size="18.5" fill="#000">IL</text>
<text x="429.67" y="195.40" font-size="18.5" fill="#000">BC CMC LiPF</text>
<text x="540.32" y="200.40" font-size="13.6" fill="#000">6</text>
<text x="429.47" y="340.80" font-size="18.5" fill="#000">BC CMC</text>
<text x="761.47" y="50.60" font-size="18.5" fill="#000">BC CMC Glycerol LiPF</text>
<text x="941.92" y="55.00" font-size="13.6" fill="#000">6</text>
<text x="950.13" y="50.60" font-size="18.5" fill="#000">IL</text>
<text x="760.77" y="194.00" font-size="18.5" fill="#000">BC CMC Glycerol LiPF</text>
<text x="942.12" y="199.30" font-size="13.6" fill="#000">6</text>
<text x="759.87" y="341.00" font-size="18.5" fill="#000">BC CMC Glycerol</text>
<text x="83.98" y="518.30" font-size="24" fill="#000">Wavenumber</text>
<text x="216.92" y="518.30" font-size="13.3" fill="#000">(</text>
<text x="221.39" y="518.30" font-size="24" fill="#000">cm</text>
<text x="250.91" y="512.80" font-size="24" fill="#000">-</text>
<text x="259.29" y="512.80" font-size="24" fill="#000">1</text>
<text x="270.27" y="518.30" font-size="13.3" fill="#000">)</text>
<text x="416.98" y="512.90" font-size="24" fill="#000">Wavenumber</text>
<text x="548.14" y="512.90" font-size="19.5" fill="#000">(</text>
<text x="553.79" y="512.90" font-size="24" fill="#000">cm</text>
<text x="582.71" y="504.90" font-size="24" fill="#000">-</text>
<text x="591.89" y="504.90" font-size="24" fill="#000">1</text>
<text x="603.37" y="512.90" font-size="19.5" fill="#000">)</text>
<text x="752.48" y="517.40" font-size="24" fill="#000">Wavenumber</text>
<text x="885.42" y="517.40" font-size="13.3" fill="#000">(</text>
<text x="889.49" y="517.40" font-size="24" fill="#000">cm</text>
<text x="918.71" y="511.40" font-size="24" fill="#000">-</text>
<text x="927.49" y="511.40" font-size="24" fill="#000">1</text>
<text x="938.37" y="517.40" font-size="13.3" fill="#000">)</text>
<text transform="translate(28.9,296.6) rotate(-90)" x="0" y="0" font-size="24">Absorbance</text>
<text transform="translate(364.7,296.6) rotate(-90)" x="0" y="0" font-size="24">Absorbance</text>
<text transform="translate(698.9,305.6) rotate(-90)" x="0" y="0" font-size="24">Absorbance</text>
</svg>
</body></html>
